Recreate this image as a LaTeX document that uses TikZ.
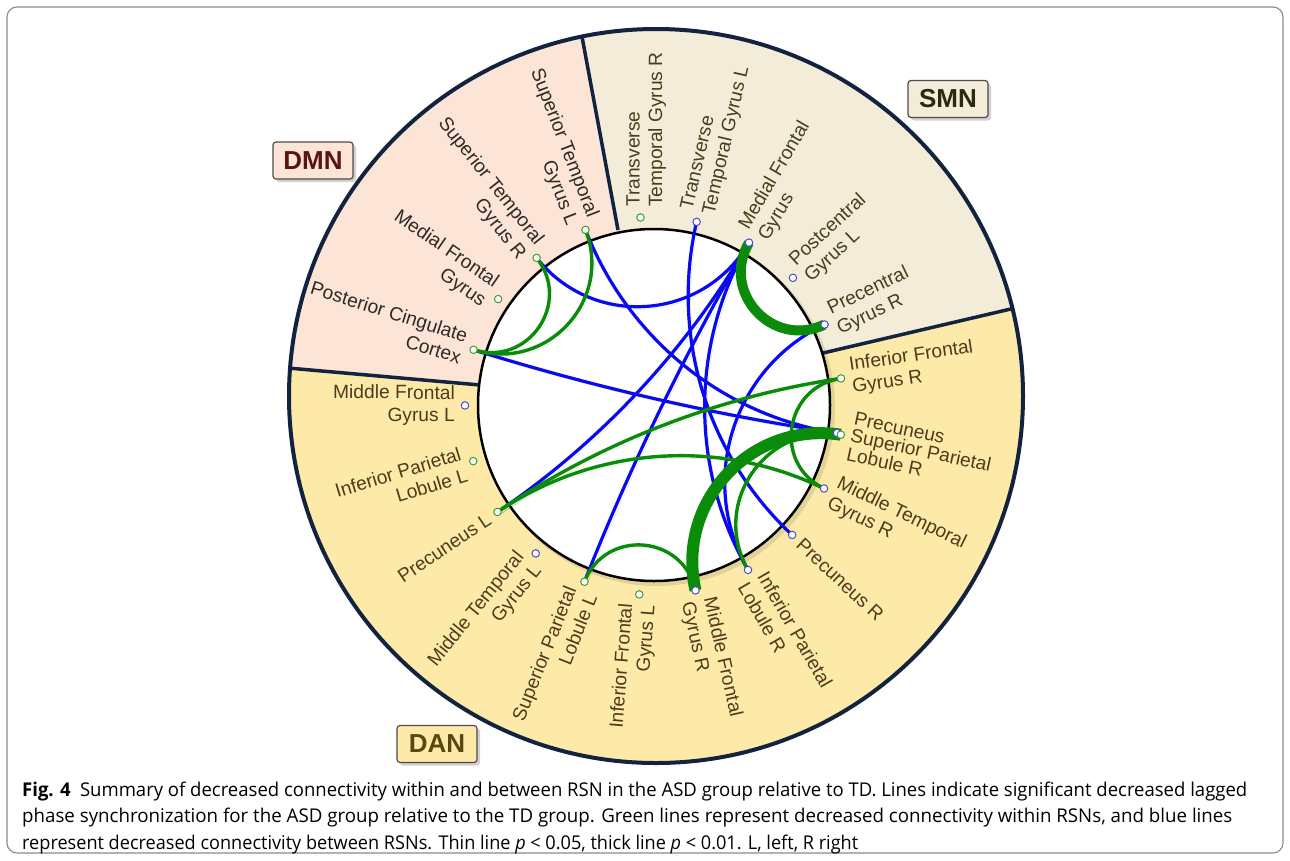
\documentclass[tikz,border=0pt]{standalone}
\usepackage{graphicx}
\usepackage{fontspec}
\setmainfont{Liberation Sans}
\newfontfamily\capfont{Open Sans}
\usetikzlibrary{calc}
\definecolor{dmnfill}{HTML}{FCE4D6}
\definecolor{smnfill}{HTML}{F3ECD8}
\definecolor{danfill}{HTML}{FDEAA9}
\definecolor{navy}{HTML}{13233F}
\definecolor{gline}{HTML}{0A8C0A}
\definecolor{bline}{HTML}{0A0AF0}
\definecolor{gdotc}{HTML}{3C9E3C}
\definecolor{bdotc}{HTML}{4A4AD8}
\definecolor{lbl}{HTML}{4A3D1C}
\definecolor{dmnlbl}{HTML}{2E2A26}
\definecolor{dmntxt}{HTML}{5A1414}
\definecolor{smntxt}{HTML}{2A2A12}
\definecolor{dantxt}{HTML}{5A4610}
\definecolor{framec}{HTML}{8A8A8A}
% \conn[style]{A}{B}{angle A}{angle B}: hyperbolic-like chord between two rim points
\newcommand\conn[5][]{%
  \pgfmathsetmacro\cdiff{abs(#4-#5)}%
  \pgfmathsetmacro\cdiff{\cdiff>180 ? 360-\cdiff : \cdiff}%
  \pgfmathsetmacro\csin{sin(\cdiff/2)}%
  \pgfmathsetmacro\cfac{4*\csin/(3*(1+\csin))}%
  \draw[#1] (#2) .. controls ($(#2)!\cfac!(O)$) and ($(#3)!\cfac!(O)$) .. (#3);}
\begin{document}
\begin{tikzpicture}[x=1pt,y=-1pt,
  sh/.style={preaction={draw=black, draw opacity=0.13, transform canvas={shift={(2.5,2.5)}}}},
  thinG/.style={sh, draw=gline, line width=3.4pt, line cap=round},
  thickA/.style={sh, draw=gline, line width=10pt},
  thickB/.style={sh, draw=gline, line width=12pt},
  thinB/.style={sh, draw=bline, line width=3.2pt, line cap=round},
  gd/.style={circle, draw=gdotc, fill=white, line width=1pt, minimum size=7.5pt, inner sep=0},
  bd/.style={circle, draw=bdotc, fill=white, line width=1pt, minimum size=7.5pt, inner sep=0},
  lblR/.style={font=\fontsize{19.2}{22.5}\selectfont, text=lbl, inner sep=0, align=left, anchor=west},
  lblL/.style={font=\fontsize{19.2}{22.5}\selectfont, text=lbl, inner sep=0, align=right, anchor=east},
  netbox/.style={draw=black!70, line width=1.2pt, rounded corners=3pt, minimum width=80pt,
     minimum height=37pt, inner sep=0, font=\bfseries\fontsize{26}{26}\selectfont,
     preaction={fill=black, fill opacity=0.18, transform canvas={shift={(3,3)}}}}
]
\useasboundingbox (0,0) rectangle (1290,860);
\draw[framec, line width=1.1pt, rounded corners=10pt] (7,7) rectangle (1283,853);

% sectors
\begin{scope}
  \clip (656,396) circle[radius=367pt];
  \fill[danfill] (656,396) circle[radius=367pt];
  \fill[dmnfill] (654,406) -- (480,385) -- (192,359.5) -- (192,-60) -- (564,-60) -- (618,230) -- cycle;
  \fill[smnfill] (654,406) -- (618,230) -- (564,-60) -- (1111,-60) -- (1111,285.5) -- (823,353) -- cycle;
  \draw[navy, line width=3.5pt] (480,385) -- (192,359.5);
  \draw[navy, line width=3.5pt] (618,230) -- (564,-60);
  \draw[navy, line width=3.5pt] (823,353) -- (1111,285.5);
  \fill[black, opacity=0.10] (657,408) circle[radius=178pt];
\end{scope}
\draw[navy, line width=4pt] (656,396) circle[radius=367pt];
\draw[black, line width=2.5pt, fill=white] (654,405) circle[radius=176pt];

% node positions
\coordinate (O) at (654,406);
\coordinate (IFGR)  at ($(O)+(8.40:189pt)$);
\coordinate (PreCR) at ($(O)+(25.54:189pt)$);
\coordinate (PostCL) at ($(O)+(42.69:189pt)$);
\coordinate (MedFGS) at ($(O)+(59.83:189pt)$);
\coordinate (TTGL)  at ($(O)+(76.97:189pt)$);
\coordinate (TTGR)  at ($(O)+(94.11:189pt)$);
\coordinate (STGL)  at ($(O)+(111.26:189pt)$);
\coordinate (STGR)  at ($(O)+(128.40:189pt)$);
\coordinate (MedFGD) at ($(O)+(145.54:189pt)$);
\coordinate (PCC)   at ($(O)+(162.69:189pt)$);
\coordinate (MFGL)  at ($(O)+(179.83:189pt)$);
\coordinate (IPLL)  at ($(O)+(196.97:189pt)$);
\coordinate (PrecL) at ($(O)+(214.11:189pt)$);
\coordinate (MTGL)  at ($(O)+(231.26:189pt)$);
\coordinate (SPLL)  at ($(O)+(248.40:189pt)$);
\coordinate (IFGL)  at ($(O)+(265.54:189pt)$);
\coordinate (MFGR)  at ($(O)+(282.69:189pt)$);
\coordinate (IPLR)  at ($(O)+(299.83:189pt)$);
\coordinate (PrecR) at ($(O)+(316.97:189pt)$);
\coordinate (MTGR)  at ($(O)+(334.11:189pt)$);
\coordinate (SPLR)  at ($(O)+(351.26:189pt)$);
\coordinate (SPLRb) at ($(O)+(351.6:185pt)$);

% blue connectors
\conn[thinB]{STGR}{MedFGS}{128.40}{59.83}
\conn[thinB]{STGL}{SPLRb}{111.26}{351.6}
\conn[thinB]{PCC}{SPLRb}{162.69}{351.6}
\conn[thinB]{TTGL}{PrecR}{76.97}{316.97}
\conn[thinB]{MedFGS}{PrecL}{59.83}{214.11}
\conn[thinB]{MedFGS}{SPLL}{59.83}{248.40}
\conn[thinB]{MedFGS}{IPLR}{59.83}{299.83}
\conn[thinB]{PreCR}{IPLR}{25.54}{299.83}
% green connectors
\conn[thinG]{STGR}{PCC}{128.40}{162.69}
\conn[thinG]{STGL}{PCC}{111.26}{162.69}
\conn[thinG]{IFGR}{MTGR}{8.40}{334.11}
\conn[thinG]{IFGR}{PrecL}{8.40}{214.11}
\conn[thinG]{PrecL}{MTGR}{214.11}{334.11}
\conn[thinG]{SPLR}{IPLR}{351.26}{299.83}
\conn[thinG]{SPLL}{MFGR}{248.40}{282.69}
\conn[thickA]{MedFGS}{PreCR}{59.83}{25.54}
\conn[thickB]{SPLR}{MFGR}{351.26}{282.69}

% dots
\node[gd] (dIFGR) at (IFGR) {};
\node[bd] (dPreCR) at (PreCR) {};
\node[bd] (dPostCL) at (PostCL) {};
\node[bd] (dMedFGS) at (MedFGS) {};
\node[bd] (dTTGL) at (TTGL) {};
\node[gd] (dTTGR) at (TTGR) {};
\node[gd] (dSTGL) at (STGL) {};
\node[gd] (dSTGR) at (STGR) {};
\node[gd] (dMedFGD) at (MedFGD) {};
\node[gd] (dPCC) at (PCC) {};
\node[bd] (dMFGL) at (MFGL) {};
\node[gd] (dIPLL) at (IPLL) {};
\node[gd] (dPrecL) at (PrecL) {};
\node[bd] (dMTGL) at (MTGL) {};
\node[gd] (dSPLL) at (SPLL) {};
\node[gd] (dIFGL) at (IFGL) {};
\node[bd] (dMFGR) at (MFGR) {};
\node[bd] (dIPLR) at (IPLR) {};
\node[bd] (dPrecR) at (PrecR) {};
\node[bd] (dMTGR) at (MTGR) {};
\node[bd] (dSPLRb) at (SPLRb) {};
\node[gd] (dSPLR) at (SPLR) {};

% labels, right side
\node[lblR, rotate=8.4] (tIFGR) at ($(O)+(8.40:199pt)$) {Inferior Frontal\\Gyrus R};
\node[lblR, rotate=25.54] (tPreCR) at ($(O)+(25.54:199pt)$) {Precentral\\Gyrus R};
\node[lblR, rotate=42.69] (tPostCL) at ($(O)+(42.69:199pt)$) {Postcentral\\Gyrus L};
\node[lblR, rotate=59.83] (tMedFGS) at ($(O)+(59.83:199pt)$) {Medial Frontal\\Gyrus};
\node[lblR, rotate=76.97] (tTTGL) at ($(O)+(76.97:199pt)$) {Transverse\\Temporal Gyrus L};
\node[lblR, rotate=90] (tTTGR) at ($(O)+(92.2:199pt)$) {Transverse\\Temporal Gyrus R};
\node[lblR, rotate=-77.31] (tMFGR) at ($(O)+(282.69:199pt)$) {Middle Frontal\\Gyrus R};
\node[lblR, rotate=-60.17] (tIPLR) at ($(O)+(299.83:199pt)$) {Inferior Parietal\\Lobule R};
\node[lblR, rotate=-43.03] (tPrecR) at ($(O)+(316.97:199pt)$) {Precuneus R};
\node[lblR, rotate=-25.89] (tMTGR) at ($(O)+(334.11:199pt)$) {Middle Temporal\\Gyrus R};
\node[lblR, rotate=-12, font=\fontsize{19.2}{17.5}\selectfont] (tSPLR) at ($(O)+(351.26:199pt)$) {Precuneus\\Superior Parietal\\Lobule R};
% labels, left side
\node[lblL, text=dmnlbl, rotate=-68.74] (tSTGL) at ($(O)+(111.26:199pt)$) {Superior Temporal\\Gyrus L};
\node[lblL, text=dmnlbl, rotate=-51.6] (tSTGR) at ($(O)+(128.40:199pt)$) {Superior Temporal\\Gyrus R};
\node[lblL, text=dmnlbl, rotate=-34.46] (tMedFGD) at ($(O)+(145.54:199pt)$) {Medial Frontal\\Gyrus};
\node[lblL, text=dmnlbl, rotate=-17.31] (tPCC) at ($(O)+(162.69:199pt)$) {Posterior Cingulate\\Cortex};
\node[lblL, rotate=-0.17] (tMFGL) at ($(O)+(179.83:199pt)$) {Middle Frontal\\Gyrus L};
\node[lblL, rotate=16.97] (tIPLL) at ($(O)+(196.97:199pt)$) {Inferior Parietal\\Lobule L};
\node[lblL, rotate=34.11] (tPrecL) at ($(O)+(214.11:199pt)$) {Precuneus L};
\node[lblL, rotate=51.26] (tMTGL) at ($(O)+(231.26:199pt)$) {Middle Temporal\\Gyrus L};
\node[lblL, rotate=68.4] (tSPLL) at ($(O)+(248.40:199pt)$) {Superior Parietal\\Lobule L};
\node[lblL, rotate=85.54] (tIFGL) at ($(O)+(265.54:199pt)$) {Inferior Frontal\\Gyrus L};

% network boxes
\node[netbox, fill=dmnfill, text=dmntxt] (DMN) at (313,160.5) {DMN};
\node[netbox, fill=smnfill, text=smntxt] (SMN) at (948,99) {SMN};
\node[netbox, fill=danfill, text=dantxt] (DAN) at (437,744) {DAN};

% caption
\node[anchor=base west, inner sep=0] (cap1) at (22,796) {\resizebox{1225pt}{14.5pt}{\capfont\textbf{Fig. 4}\hspace{0.5em}Summary of decreased connectivity within and between RSN in the ASD group relative to TD. Lines indicate significant decreased lagged}};
\node[anchor=base west, inner sep=0] (cap2) at (22,822.5) {\resizebox{1210pt}{14.5pt}{\capfont phase synchronization for the ASD group relative to the TD group. Green lines represent decreased connectivity within RSNs, and blue lines}};
\node[anchor=base west, inner sep=0] (cap3) at (22,849) {\resizebox{836pt}{14.5pt}{\capfont represent decreased connectivity between RSNs. Thin line \textit{p} < 0.05, thick line \textit{p} < 0.01. L, left, R right}};
\end{tikzpicture}
\end{document}
